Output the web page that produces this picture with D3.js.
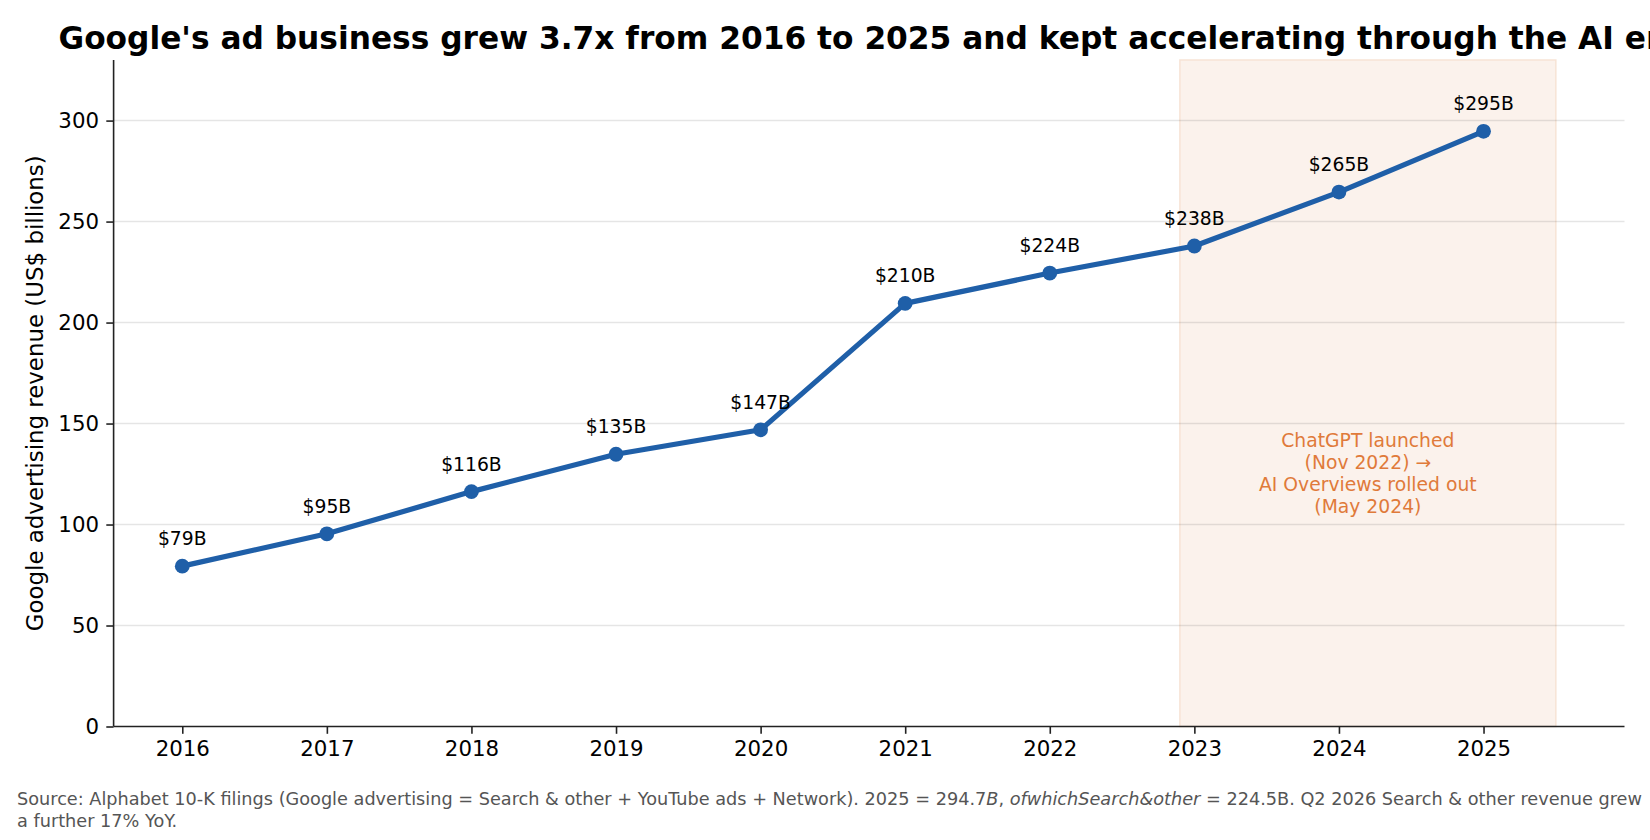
<!DOCTYPE html>
<html><head><meta charset="utf-8">
<script src="https://cdn.jsdelivr.net/npm/d3@7"></script>
<style>html,body{margin:0;padding:0;background:#fff;overflow:hidden}svg{display:block}text{font-family:"DejaVu Sans",sans-serif}</style>
</head><body>
<script>
const years = [2016, 2017, 2018, 2019, 2020, 2021, 2022, 2023, 2024, 2025];
const revenue = [79.4, 95.4, 116.3, 134.8, 146.9, 209.5, 224.5, 237.9, 264.6, 294.7];
const labels = ["$79B", "$95B", "$116B", "$135B", "$147B", "$210B", "$224B", "$238B", "$265B", "$295B"];
const yTicks = [0, 50, 100, 150, 200, 250, 300];
const spanRange = [2022.9, 2025.5];
const noteLines = ["ChatGPT launched", "(Nov 2022) \u2192", "AI Overviews rolled out", "(May 2024)"];
const notePos = [2024.2, 125];
const titleText = "Google's ad business grew 3.7x from 2016 to 2025 and kept accelerating through the AI era";
const yLabel = "Google advertising revenue (US$ billions)";

const W = 1650, H = 840;
const L = 113.6, R = 1624.5, T = 60, B = 726.5;
const svg = d3.select("body").append("svg").attr("width", W).attr("height", H);

const x = d3.scaleLinear().domain([2015.525, 2025.975]).range([L, R]);
const y = d3.scaleLinear().domain([0, 330]).range([B, T]);

// shaded span
svg.append("rect")
  .attr("x", x(spanRange[0])).attr("y", T)
  .attr("width", x(spanRange[1]) - x(spanRange[0])).attr("height", B - T)
  .attr("fill", "#fbf2ec").attr("stroke", "#f7e3d5").attr("stroke-width", 1.5);

// grid
svg.append("g").selectAll("line").data(yTicks.filter(d => d > 0)).join("line")
  .attr("x1", L).attr("x2", R).attr("y1", d => y(d)).attr("y2", d => y(d))
  .attr("stroke", "#000").attr("stroke-opacity", 0.1).attr("stroke-width", 1.5);

// axes
const xAxis = d3.axisBottom(x).tickValues(years).tickFormat(d3.format("d")).tickSize(7.3).tickPadding(7.3);
const gx = svg.append("g").attr("transform", `translate(0,${B})`).call(xAxis);
gx.select(".domain").attr("d", `M${L},0H${R}`);
const yAxis = d3.axisLeft(y).tickValues(yTicks).tickSize(7.3).tickPadding(7.3);
const gy = svg.append("g").attr("transform", `translate(${L},0)`).call(yAxis);
gy.select(".domain").attr("d", `M0,${B}V${T}`);
[gx, gy].forEach(g => {
  g.selectAll(".domain").attr("stroke", "#222").attr("stroke-width", 1.6);
  g.selectAll(".tick line").attr("stroke", "#222").attr("stroke-width", 1.6);
  g.selectAll(".tick text").attr("font-family", "DejaVu Sans").attr("font-size", 21.3).attr("fill", "#000");
});

// line
svg.append("path").datum(years.map((d, i) => [d, revenue[i]]))
  .attr("d", d3.line().x(d => x(d[0])).y(d => y(d[1])))
  .attr("fill", "none").attr("stroke", "#1f5fa8").attr("stroke-width", 5.2)
  .attr("stroke-linejoin", "round").attr("stroke-linecap", "round");
svg.append("g").selectAll("circle").data(years).join("circle")
  .attr("cx", d => x(d)).attr("cy", (d, i) => y(revenue[i])).attr("r", 7.4)
  .attr("fill", "#1f5fa8");

// value labels
svg.append("g").selectAll("text").data(years).join("text")
  .attr("x", d => x(d)).attr("y", (d, i) => y(revenue[i]) - 21)
  .attr("text-anchor", "middle").attr("font-size", 18.75).attr("fill", "#000")
  .text((d, i) => labels[i]);

// note
const nt = svg.append("text").attr("text-anchor", "middle").attr("font-size", 18.75).attr("fill", "#e07a3a");
noteLines.forEach((s, i) => {
  nt.append("tspan").attr("x", x(notePos[0])).attr("y", y(notePos[1]) - 27.5 + i * 22).text(s);
});

// title
svg.append("text").attr("x", 58.5).attr("y", 49).attr("font-size", 31.25).attr("font-weight", "bold")
  .attr("fill", "#000").text(titleText);

// y label
svg.append("text").attr("transform", `translate(43,${(T + B) / 2}) rotate(-90)`)
  .attr("text-anchor", "middle").attr("font-size", 22.9).attr("fill", "#000").text(yLabel);

// footer
const ft = svg.append("text").attr("font-size", 17.7).attr("fill", "#555");
const l1 = ft.append("tspan").attr("x", 17).attr("y", 805);
l1.append("tspan").text("Source: Alphabet 10-K filings (Google advertising = Search & other + YouTube ads + Network). 2025 = 294.7");
l1.append("tspan").attr("font-style", "italic").text("B");
l1.append("tspan").text(", ");
l1.append("tspan").attr("font-style", "italic").text("ofwhichSearch&other");
l1.append("tspan").text(" = 224.5B. Q2 2026 Search & other revenue grew");
ft.append("tspan").attr("x", 17).attr("y", 827).text("a further 17% YoY.");
</script>
</body></html>
